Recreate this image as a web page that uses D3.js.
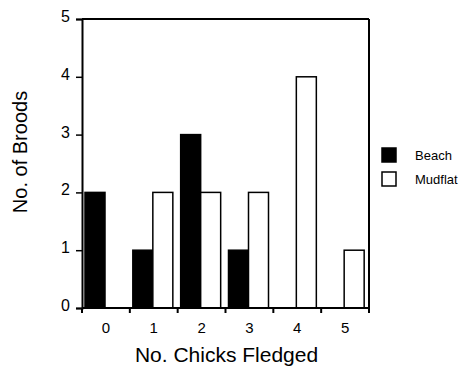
<!DOCTYPE html>
<html>
<head>
<meta charset="utf-8">
<script src="https://cdn.jsdelivr.net/npm/d3@7"></script>
<style>
  body { margin: 0; background: #fff; }
  text { font-family: "Liberation Sans", Arial, sans-serif; fill: #000; }
</style>
</head>
<body>
<svg id="chart" width="463" height="370"></svg>
<script>
// chick counts per brood type
const categories = ["0", "1", "2", "3", "4", "5"];
const series = ["Beach", "Mudflat"];
const beach = [2, 1, 3, 1, 0, 0];
const mudflat = [0, 2, 2, 2, 4, 1];
const yTicks = [0, 1, 2, 3, 4, 5];

const svg = d3.select("#chart");
const plot = { left: 82, right: 369, top: 19, bottom: 308 };

const x0 = d3.scaleBand().domain(categories).range([plot.left, plot.right]);
const x1 = d3.scaleBand().domain(series).range([3, 43]);
const y = d3.scaleLinear().domain([0, 5]).range([plot.bottom, plot.top]);
const fill = { Beach: "#000", Mudflat: "#fff" };

const rows = categories.map((c, i) => ({ cat: c, Beach: beach[i], Mudflat: mudflat[i] }));

// bars
const groups = svg.append("g").selectAll("g")
    .data(rows)
    .enter()
    .append("g")
    .attr("transform", d => `translate(${x0(d.cat)},0)`);

groups.selectAll("rect")
    .data(d => series.map(s => ({ s, v: d[s] })).filter(d => d.v > 0))
    .enter()
    .append("rect")
    .attr("x", d => x1(d.s))
    .attr("width", x1.bandwidth())
    .attr("y", d => y(d.v))
    .attr("height", d => y(0) - y(d.v))
    .attr("fill", d => fill[d.s])
    .attr("stroke", "#000")
    .attr("stroke-width", 1.5);

// frame
svg.append("line").attr("x1", plot.left).attr("x2", plot.right).attr("y1", plot.top).attr("y2", plot.top)
    .attr("stroke", "#000").attr("stroke-width", 2);
svg.append("line").attr("x1", plot.right).attr("x2", plot.right).attr("y1", plot.top).attr("y2", plot.bottom)
    .attr("stroke", "#000").attr("stroke-width", 2);

// axes
const yAxis = svg.append("g")
    .attr("transform", `translate(${plot.left},0)`)
    .call(d3.axisLeft(y).tickValues(yTicks).tickSize(6).tickPadding(6).tickFormat(d3.format("d")));

const xAxis = svg.append("g")
    .attr("transform", `translate(0,${plot.bottom})`)
    .call(d3.axisBottom(x0).tickSize(0).tickPadding(14));

// category boundary ticks below the axis
svg.append("g").selectAll("line")
    .data(categories.concat(["end"]))
    .enter()
    .append("line")
    .attr("x1", (d, i) => i < categories.length ? x0(d) : plot.right)
    .attr("x2", (d, i) => i < categories.length ? x0(d) : plot.right)
    .attr("y1", plot.bottom)
    .attr("y2", plot.bottom + 5)
    .attr("stroke", "#000")
    .attr("stroke-width", 2);

[yAxis, xAxis].forEach(a => {
    a.select(".domain").attr("stroke", "#000").attr("stroke-width", 2);
    a.selectAll(".tick line").attr("stroke", "#000").attr("stroke-width", 1.5);
    a.selectAll("text").attr("font-size", 16).attr("font-family", "Liberation Sans, Arial, sans-serif");
});
yAxis.selectAll("text").attr("dy", "0.15em");
xAxis.selectAll("text").attr("font-size", 15);
xAxis.select(".domain").attr("d", `M${plot.left},0H${plot.right}`);

// axis titles
svg.append("text")
    .attr("x", (plot.left + plot.right) / 2 + 1)
    .attr("y", 362)
    .attr("text-anchor", "middle")
    .attr("font-size", 21)
    .text("No. Chicks Fledged");

svg.append("text")
    .attr("transform", `translate(27,152) rotate(-90)`)
    .attr("text-anchor", "middle")
    .attr("font-size", 20)
    .text("No. of Broods");

// legend
const legend = svg.append("g").selectAll("g")
    .data(series)
    .enter()
    .append("g")
    .attr("transform", (d, i) => `translate(382,${148 + i * 24})`);

legend.append("rect")
    .attr("width", 14)
    .attr("height", 14)
    .attr("fill", d => fill[d])
    .attr("stroke", "#000")
    .attr("stroke-width", 1.5);

legend.append("text")
    .attr("x", 33)
    .attr("y", 12)
    .attr("font-size", 13)
    .text(d => d);
</script>
</body>
</html>
